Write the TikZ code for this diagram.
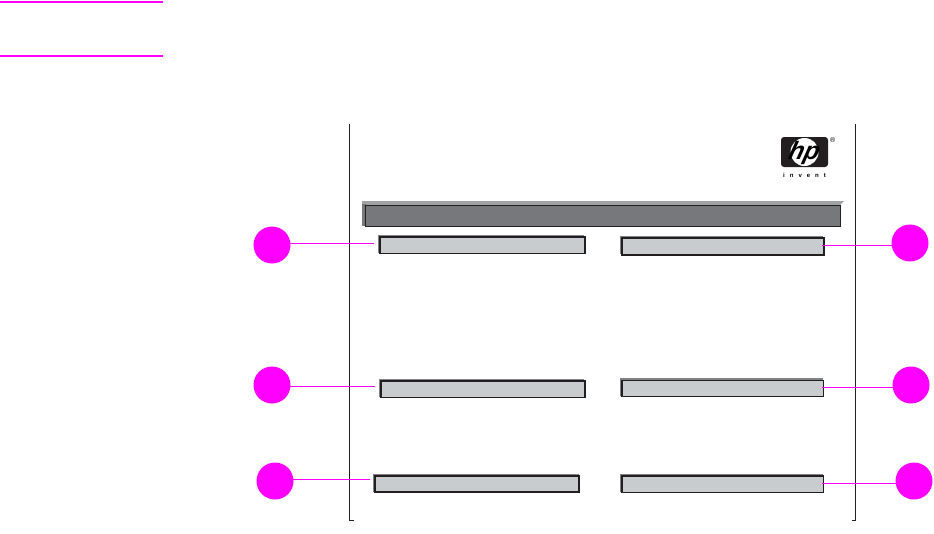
\documentclass[tikz,border=0pt]{standalone}
\usepackage{fontspec}
\setmainfont{Liberation Sans}
\usetikzlibrary{positioning}
\definecolor{callout}{HTML}{FF00FF}
\definecolor{ink}{HTML}{231F20}
\definecolor{barfill}{HTML}{77787B}
\definecolor{boxfill}{HTML}{C9CCCE}
\definecolor{bevel}{HTML}{808285}
\definecolor{bevellt}{HTML}{A0A2A4}
\begin{document}
\begin{tikzpicture}[x=1pt,y=-1pt,
          dot/.style={circle, fill=callout, inner sep=0pt, minimum size=37pt},
          field/.style={draw=ink, line width=1.7pt, fill=boxfill, inner sep=0pt, anchor=north west,
            preaction={draw=bevel, line width=1.7pt, transform canvas={shift={(-1.3pt,1.4pt)}}}},
          lead/.style={draw=callout, line width=1pt},
          rule/.style={callout, line width=2pt},
          frameline/.style={ink, line width=0.9pt}]
        \useasboundingbox (0,0) rectangle (934,533);
        \coordinate (ruleaw) at (0,2);
        \coordinate (ruleae) at (163,2);
        \coordinate (rulebw) at (0,56);
        \coordinate (rulebe) at (163,56);
        \draw[rule] (ruleaw) -- (ruleae);
        \draw[rule] (rulebw) -- (rulebe);
        \coordinate (framelt) at (349.2,123.5);
        \coordinate (framelb) at (349.2,520.5);
        \coordinate (framelf) at (353.5,520.5);
        \coordinate (framert) at (855.6,123.5);
        \coordinate (framerb) at (855.6,520.5);
        \coordinate (framerf) at (851.5,520.5);
        \draw[frameline] (framelt) -- (framelb) -- (framelf);
        \draw[frameline] (framert) -- (framerb) -- (framerf);
        \fill[bevellt] (362,201) -- (844,201) -- (839,206) -- (362,206) -- cycle;
        \fill[barfill] (362,204) -- (366,204) -- (366,226) -- (362,226) -- cycle;
        \node[draw=ink, line width=0.9pt, fill=barfill, inner sep=0pt, anchor=north west, minimum width=474.6pt, minimum height=21.5pt] (titlebar) at (365,204.6) {};
        \node[field, minimum width=205pt, minimum height=16.5pt] (lefta) at (379,236) {};
        \node[field, minimum width=202pt, minimum height=16.8pt] (righta) at (621,237) {};
        \node[field, minimum width=204pt, minimum height=16.5pt] (leftb) at (380,380) {};
        \node[field, minimum width=201.7pt, minimum height=16.2pt] (rightb) at (621,379.5) {};
        \node[field, minimum width=204pt, minimum height=16.2pt] (leftc) at (374.3,475) {};
        \node[field, minimum width=201.7pt, minimum height=16.5pt] (rightc) at (621,475) {};
        \node[dot] (dotla) at (272,245) {};
        \node[dot] (dotra) at (910,243) {};
        \node[dot] (dotlb) at (272,385) {};
        \node[dot] (dotrb) at (911,385) {};
        \node[dot] (dotlc) at (275,481) {};
        \node[dot] (dotrc) at (914,481) {};
        \coordinate (leadla) at (374,243.3);
        \coordinate (leadra) at (822,245.3);
        \coordinate (leadlb) at (375,386);
        \coordinate (leadrb) at (822,387.3);
        \coordinate (leadlc) at (370,479.5);
        \coordinate (leadrc) at (822,483.3);
        \draw[lead] (leadla) -- (leadla -| dotla);
        \draw[lead] (leadra) -- (leadra -| dotra);
        \draw[lead] (leadlb) -- (leadlb -| dotlb);
        \draw[lead] (leadrb) -- (leadrb -| dotrb);
        \draw[lead] (leadlc) -- (leadlc -| dotlc);
        \draw[lead] (leadrc) -- (leadrc -| dotrc);
        \node[fill=ink, rounded corners=3pt, inner sep=0pt, minimum width=47pt, minimum height=30pt] (hplogo) at (804.5,152) {};
        \node[circle, fill=white, inner sep=0pt, minimum size=28pt] (hpdisc) at (hplogo) {};
        \node[font=\bfseries\itshape\fontsize{25}{25}\selectfont, inner sep=0pt, xslant=0.25, yshift=-1pt] (hptext) at (hpdisc) {hp};
        \node[font=\fontsize{7}{7}\selectfont, inner sep=0pt, anchor=center] (hpreg) at (832.7,140) {®};
        \node[font=\bfseries\fontsize{6}{6}\selectfont, inner sep=0pt, below=6pt of hplogo] (hpinvent) {i\hspace{5pt}n\hspace{5pt}v\hspace{5pt}e\hspace{5pt}n\hspace{5pt}t};
      \end{tikzpicture}
\end{document}
